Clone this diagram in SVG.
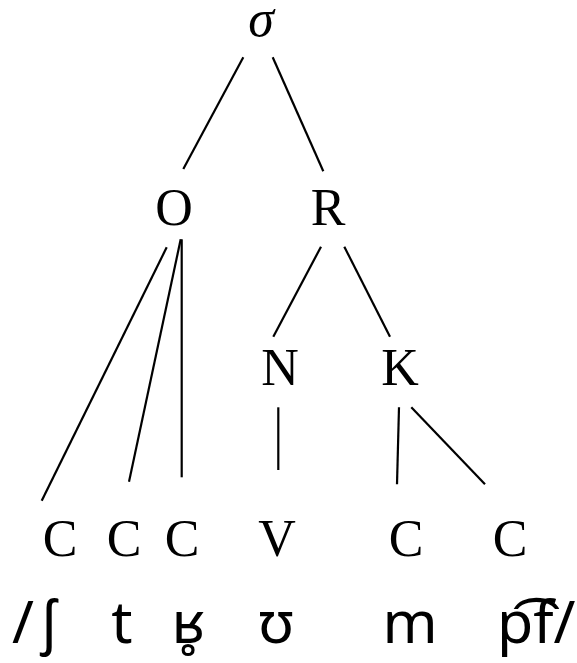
<svg xmlns="http://www.w3.org/2000/svg" width="577" height="663" viewBox="0 0 577 663">
  <style>
    .lbl { font-family: "Liberation Serif", "Times New Roman", serif; font-size: 52px; fill: #000; text-anchor: middle; }
    .sig { font-style: italic; }
    .ipa { font-family: "Noto Sans", "DejaVu Sans", sans-serif; font-size: 59px; fill: #000; }
    .mid { text-anchor: middle; }
    .edge line { stroke: #000; stroke-width: 2.2; stroke-linecap: butt; }
  </style>
  <rect width="577" height="663" fill="#fff"/>

  <!-- tree branches -->
  <g id="connectors" class="edge">
    <line x1="243.3" y1="57.3" x2="183.3" y2="169"/>
    <line x1="272.7" y1="57.3" x2="323.3" y2="171.3"/>
    <line x1="321" y1="246.7" x2="273.3" y2="336.7"/>
    <line x1="344.3" y1="246.7" x2="390" y2="336.7"/>
    <line x1="166.7" y1="247.3" x2="41.7" y2="500.7"/>
    <line x1="180.7" y1="239.3" x2="129" y2="481.7"/>
    <line x1="181.7" y1="239.3" x2="181.7" y2="477.3"/>
    <line x1="278.3" y1="407.3" x2="278.3" y2="470"/>
    <line x1="399" y1="407.3" x2="397" y2="484.3"/>
    <line x1="411.3" y1="407.3" x2="485" y2="484.3"/>
  </g>

  <!-- syllable -->
  <g id="node-sigma"><text class="lbl sig" x="261" y="36">σ</text></g>
  <!-- onset and rhyme -->
  <g id="node-onset"><text class="lbl" x="174" y="225">O</text></g>
  <g id="node-rhyme"><text class="lbl" x="328" y="225">R</text></g>
  <!-- nucleus and coda -->
  <g id="node-nucleus"><text class="lbl" x="280" y="385">N</text></g>
  <g id="node-coda"><text class="lbl" x="400" y="385">K</text></g>

  <!-- skeletal slots -->
  <g id="node-c1"><text class="lbl" x="60" y="556">C</text></g>
  <g id="node-c2"><text class="lbl" x="124" y="556">C</text></g>
  <g id="node-c3"><text class="lbl" x="182" y="556">C</text></g>
  <g id="node-v"><text class="lbl" x="277" y="556">V</text></g>
  <g id="node-c4"><text class="lbl" x="406" y="556">C</text></g>
  <g id="node-c5"><text class="lbl" x="510" y="556">C</text></g>

  <!-- segments -->
  <g id="segments">
    <text class="ipa mid" y="643"><tspan x="23">/</tspan><tspan x="49">ʃ</tspan></text>
    <text class="ipa mid" x="122" y="643">t</text>
    <text class="ipa mid" x="188" y="643">ʁ̥</text>
    <text class="ipa mid" x="276" y="643">ʊ</text>
    <text class="ipa mid" x="410" y="643">m</text>
    <text class="ipa" x="497" y="643">p͡f/</text>
  </g>
</svg>
